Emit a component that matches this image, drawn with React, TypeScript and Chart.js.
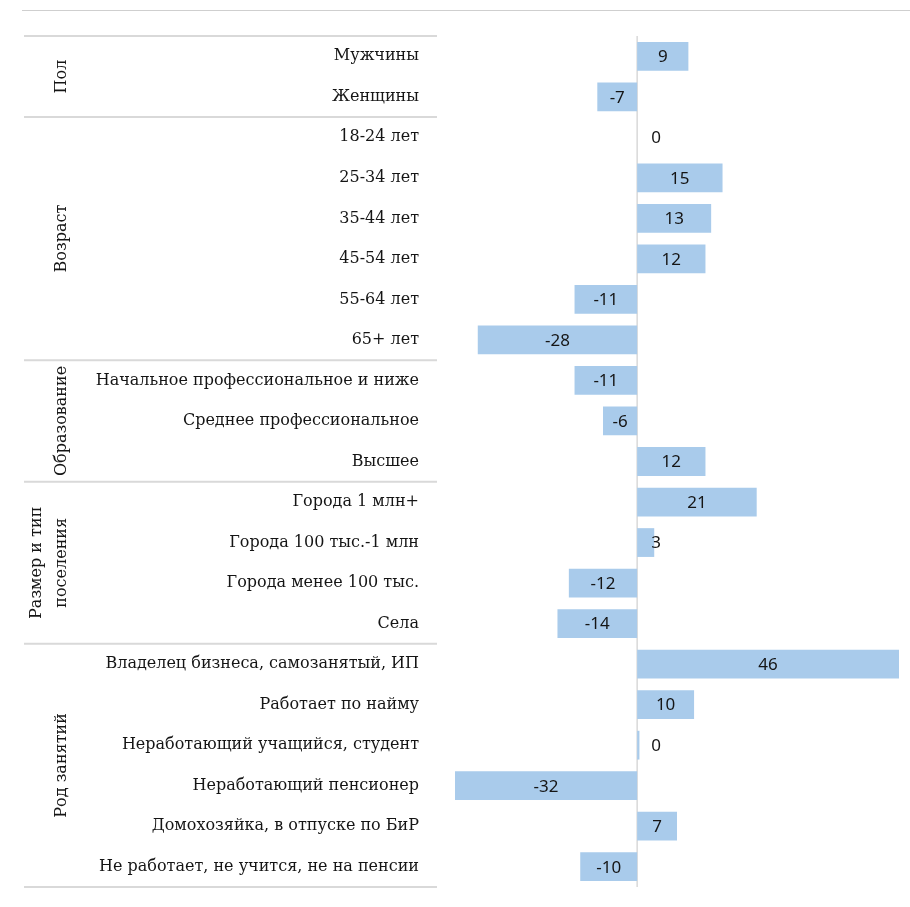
import React, { useEffect, useRef } from "react";
import { Chart, registerables } from "chart.js";

Chart.register(...registerables);

const categories: string[] = [
  "Мужчины",
  "Женщины",
  "18-24 лет",
  "25-34 лет",
  "35-44 лет",
  "45-54 лет",
  "55-64 лет",
  "65+ лет",
  "Начальное профессиональное и ниже",
  "Среднее профессиональное",
  "Высшее",
  "Города 1 млн+",
  "Города 100 тыс.-1 млн",
  "Города менее 100 тыс.",
  "Села",
  "Владелец бизнеса, самозанятый, ИП",
  "Работает по найму",
  "Неработающий учащийся, студент",
  "Неработающий пенсионер",
  "Домохозяйка, в отпуске по БиР",
  "Не работает, не учится, не на пенсии",
];

const values: number[] = [9, -7, 0, 15, 13, 12, -11, -28, -11, -6, 12, 21, 3, -12, -14, 46, 10, 0.4, -32, 7, -10];

const groupNames: string[][] = [["Пол"], ["Возраст"], ["Образование"], ["Размер и тип", "поселения"], ["Род занятий"]];
const groupSizes: number[] = [2, 6, 3, 4, 6];

const BAR_COLOR = "#a9cbeb";
const LINE_COLOR = "#d9d9d9";
const TEXT_COLOR = "#151515";
const LABEL_FONT = "DejaVu Serif";
const NUM_FONT = "Noto Sans";

const decorPlugin = {
  id: "decor",
  beforeDatasetsDraw(chart: any) {
    const { ctx, chartArea, scales } = chart;
    const x0 = scales.x.getPixelForValue(0);
    ctx.save();
    ctx.strokeStyle = LINE_COLOR;
    ctx.lineWidth = 1.5;
    ctx.beginPath();
    ctx.moveTo(x0, chartArea.top);
    ctx.lineTo(x0, chartArea.bottom);
    ctx.stroke();
    ctx.restore();
  },
  afterDraw(chart: any) {
    const { ctx, chartArea, scales } = chart;
    const ys = scales.y;
    const xs = scales.x;
    const n = categories.length;
    const boundaryY = (k: number) => {
      if (k <= 0) return chartArea.top;
      if (k >= n) return chartArea.bottom;
      return (ys.getPixelForValue(k - 1) + ys.getPixelForValue(k)) / 2;
    };
    ctx.save();
    ctx.strokeStyle = LINE_COLOR;
    ctx.lineWidth = 2;
    let idx = 0;
    const bounds: number[] = [0];
    groupSizes.forEach((s) => {
      idx += s;
      bounds.push(idx);
    });
    bounds.forEach((b) => {
      const y = boundaryY(b);
      ctx.beginPath();
      ctx.moveTo(16, y);
      ctx.lineTo(429, y);
      ctx.stroke();
    });
    ctx.fillStyle = TEXT_COLOR;
    ctx.font = `16px "${LABEL_FONT}"`;
    ctx.textAlign = "center";
    ctx.textBaseline = "middle";
    for (let g = 0; g < groupSizes.length; g++) {
      const yc = (boundaryY(bounds[g]) + boundaryY(bounds[g + 1])) / 2;
      const lines = groupNames[g];
      const lh = 25;
      const cx = 54;
      lines.forEach((line, i) => {
        const off = (i - (lines.length - 1)) * lh;
        ctx.save();
        ctx.translate(cx + off, yc);
        ctx.rotate(-Math.PI / 2);
        ctx.fillText(line, 0, 0);
        ctx.restore();
      });
    }
    const x0 = xs.getPixelForValue(0);
    ctx.font = `17px "${NUM_FONT}"`;
    values.forEach((v, i) => {
      const x = xs.getPixelForValue(v);
      const y = ys.getPixelForValue(i);
      let cx = (x0 + x) / 2;
      if (v >= 0) cx = Math.max(cx, x0 + 19);
      ctx.fillText(String(Math.round(v)), cx, y + 1);
    });
    ctx.restore();
  },
};

export default function App() {
  const ref = useRef<HTMLCanvasElement | null>(null);
  useEffect(() => {
    if (!ref.current) return;
    const chart = new Chart(ref.current, {
      type: "bar",
      data: {
        labels: categories,
        datasets: [
          {
            data: values,
            backgroundColor: BAR_COLOR,
            borderWidth: 0,
            barPercentage: 0.71,
            categoryPercentage: 1,
          },
        ],
      },
      options: {
        indexAxis: "y",
        animation: false,
        responsive: false,
        maintainAspectRatio: false,
        devicePixelRatio: 1,
        layout: { padding: { top: 28, right: 3, bottom: 12, left: 0 } },
        plugins: {
          legend: { display: false },
          tooltip: { enabled: false },
          title: { display: false },
        },
        scales: {
          x: {
            display: false,
            min: Math.min(...values),
            max: Math.max(...values),
          },
          y: {
            grid: { display: false, drawTicks: false },
            border: { display: false },
            ticks: {
              color: TEXT_COLOR,
              font: { family: LABEL_FONT, size: 16 },
              padding: 36,
              crossAlign: "near",
              autoSkip: false,
            },
            afterFit(scale: any) {
              scale.width = 447;
              scale.paddingTop = 0;
              scale.paddingBottom = 0;
            },
          },
        },
      },
      plugins: [decorPlugin],
    });
    return () => chart.destroy();
  }, []);

  return (
    <div style={{ position: "relative", width: 894, height: 891 }}>
      <div
        style={{
          position: "fixed",
          top: 10,
          left: 22,
          right: 0,
          height: 0,
          borderTop: "1.5px solid #cfcfcf",
        }}
      />
      <canvas ref={ref} width={894} height={891} style={{ display: "block", width: 894, height: 891 }} />
    </div>
  );
}
